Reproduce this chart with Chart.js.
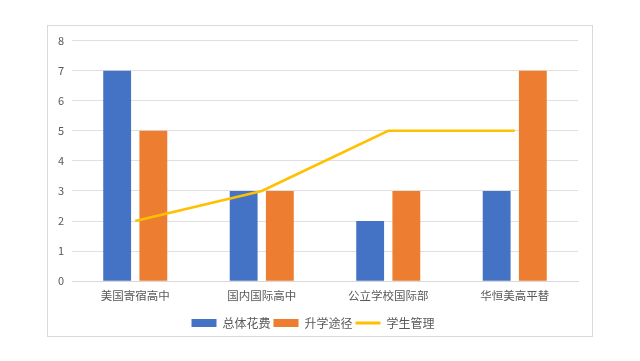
<!DOCTYPE html>
<html>
<head>
<meta charset="utf-8">
<script src="https://cdn.jsdelivr.net/npm/chart.js@4/dist/chart.umd.min.js"></script>
<style>
  html, body { margin: 0; padding: 0; background: #ffffff; width: 640px; height: 361px; overflow: hidden; }
  #box { position: absolute; left: 47px; top: 25px; width: 546px; height: 312px; border: 1px solid #d9d9d9; box-sizing: border-box; background: #fff; }
  #wrap { position: absolute; left: 0; top: 0; width: 544px; height: 310px; }
</style>
</head>
<body>
<div id="box"><div id="wrap"><canvas id="c"></canvas></div></div>
<script>
const categories = ['美国寄宿高中', '国内国际高中', '公立学校国际部', '华恒美高平替'];
const seriesNames = ['总体花费', '升学途径', '学生管理'];
const costValues = [7, 3, 2, 3];
const pathValues = [5, 3, 3, 7];
const managementValues = [2, 3, 5, 5];
const yTicks = [0, 1, 2, 3, 4, 5, 6, 7, 8];

const FONT = '"Noto Sans CJK SC", "Noto Sans", sans-serif';
const TXT = '#595959';

new Chart(document.getElementById('c'), {
  type: 'bar',
  data: {
    labels: categories,
    datasets: [
      { type: 'bar', label: seriesNames[0], data: costValues, backgroundColor: '#4472C4', borderWidth: 0, order: 2,
        categoryPercentage: 0.572, barPercentage: 0.77 },
      { type: 'bar', label: seriesNames[1], data: pathValues, backgroundColor: '#ED7D31', borderWidth: 0, order: 2,
        categoryPercentage: 0.572, barPercentage: 0.77 },
      { type: 'line', label: seriesNames[2], data: managementValues, borderColor: '#FFC000', backgroundColor: '#FFC000',
        borderWidth: 2.5, pointRadius: 0, pointHoverRadius: 0, tension: 0, fill: false, order: 0 }
    ]
  },
  options: {
    responsive: true,
    maintainAspectRatio: false,
    animation: false,
    layout: { padding: { left: 0, right: 14, top: 6, bottom: -3 } },
    plugins: {
      tooltip: { enabled: false },
      legend: {
        position: 'bottom',
        labels: {
          usePointStyle: true,
          pointStyleWidth: 25,
          boxHeight: 8,
          padding: 3,
          color: TXT,
          font: { family: FONT, size: 12 },
          sort: (a, b) => a.datasetIndex - b.datasetIndex,
          generateLabels(chart) {
            const items = Chart.defaults.plugins.legend.labels.generateLabels(chart);
            items.forEach((it) => {
              if (it.datasetIndex === 2) { it.pointStyle = 'line'; it.lineWidth = 3; it.strokeStyle = '#FFC000'; }
              else { it.pointStyle = 'rect'; it.lineWidth = 0; }
            });
            return items;
          }
        }
      }
    },
    scales: {
      x: {
        grid: { display: false, drawTicks: false },
        border: { display: true, color: '#d9d9d9' },
        afterFit(scale) { scale.height += 3; },
        ticks: { color: TXT, font: { family: FONT, size: 11.5 }, padding: 8, maxRotation: 0 }
      },
      y: {
        min: 0, max: 8,
        afterBuildTicks(scale) { scale.ticks = yTicks.map(v => ({ value: v })); },
        afterFit(scale) { scale.width = 24; },
        grid: { color: '#e0e0e0', drawTicks: false },
        border: { display: false },
        ticks: { color: TXT, font: { family: FONT, size: 11 }, padding: 8 }
      }
    }
  }
});
</script>
</body>
</html>
